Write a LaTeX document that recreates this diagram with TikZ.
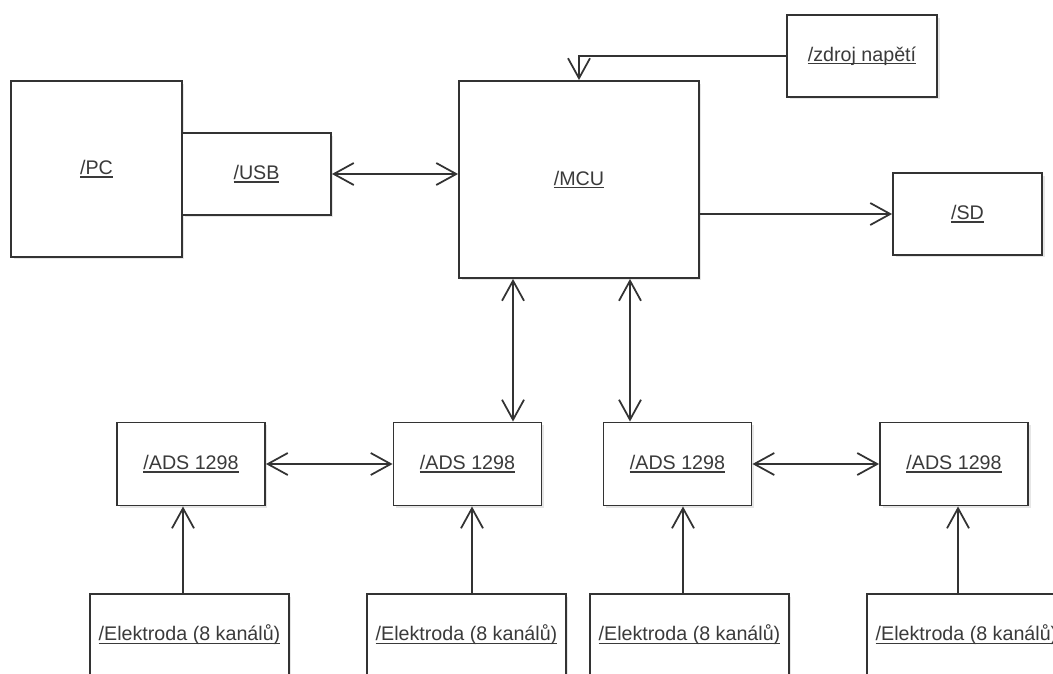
\documentclass[tikz,border=0pt]{standalone}
\usepackage{fontspec}
\setmainfont{Liberation Sans}
\usetikzlibrary{positioning,arrows.meta,shadows}

\definecolor{linegray}{HTML}{333333}
\definecolor{textgray}{HTML}{3A3A3A}

\newsavebox{\ulsave}
\newcommand{\ultext}[1]{\sbox{\ulsave}{#1}\rlap{\rule[-1.8pt]{\wd\ulsave}{0.8pt}}\usebox{\ulsave}}

\tikzset{blok/.style={draw=linegray,line width=1.1pt,fill=white,rectangle,inner sep=0pt,
text=textgray,font=\fontsize{11.2}{13}\selectfont,
drop shadow={shadow xshift=0.05cm,shadow yshift=-0.05cm,opacity=0.2}},
adsbox/.style={blok,minimum width=2.96cm,minimum height=1.66cm},
elbox/.style={blok,minimum width=3.98cm,minimum height=1.64cm}}
\tikzstyle{arrow} = [line width=1pt,draw=linegray,>={Straight Barb[length=0.4cm,width=0.44cm]}]

\begin{document}
\begin{tikzpicture}[x=0.02cm,y=-0.02cm]
		\clip (0,0) rectangle (1053,673);
		\begin{scope}[every node/.style={blok}]
			\node[minimum width=3.42cm,minimum height=3.52cm] (PC) at (96.5,169) {\ultext{/PC}};
			\node[minimum width=2.98cm,minimum height=1.64cm] (USB) at (256.5,174) {\ultext{/USB}};
			\node[minimum width=4.8cm,minimum height=3.94cm] (MCU) at (579,179.5) {\ultext{/MCU}};
			\node[minimum width=3.0cm,minimum height=1.64cm] (zdroj) at (862,56) {\ultext{/zdroj napětí}};
			\node[minimum width=2.98cm,minimum height=1.64cm] (SD) at (967.5,214) {\ultext{/SD}};
		\end{scope}

		\begin{scope}[every node/.style={adsbox}]
			\node (ADS1) at (191,464) {\ultext{/ADS 1298}};
			\node (ADS2) at (467.5,464) {\ultext{/ADS 1298}};
			\node (ADS3) at (677.5,464) {\ultext{/ADS 1298}};
			\node (ADS4) at (954,464) {\ultext{/ADS 1298}};
		\end{scope}

		\begin{scope}[every node/.style={elbox}]
			\node (E1) at (189.5,635) {\ultext{/Elektroda (8 kanálů)}};
			\node (E2) at (466.5,635) {\ultext{/Elektroda (8 kanálů)}};
			\node (E3) at (689.5,635) {\ultext{/Elektroda (8 kanálů)}};
			\node (E4) at (966.5,635) {\ultext{/Elektroda (8 kanálů)}};
		\end{scope}

		% spojeni
		\draw [arrow,<->] (USB.east) -- (USB.east -| MCU.west);
		\draw [arrow,->] (zdroj.west) -| (MCU.north);
		\draw [arrow,->] (MCU.east |- SD.west) -- (SD.west);
		\draw [arrow,<->] ([xshift=-1.32cm]MCU.south) -- ([xshift=-1.32cm]MCU.south |- ADS2.north);
		\draw [arrow,<->] ([xshift=1.02cm]MCU.south) -- ([xshift=1.02cm]MCU.south |- ADS3.north);
		\draw [arrow,<->] (ADS1.east) -- (ADS2.west);
		\draw [arrow,<->] (ADS3.east) -- (ADS4.west);
		\draw [arrow,->] ([xshift=-0.13cm]E1.north) -- ([xshift=-0.13cm]E1.north |- ADS1.south);
		\draw [arrow,->] ([xshift=0.11cm]E2.north) -- ([xshift=0.11cm]E2.north |- ADS2.south);
		\draw [arrow,->] ([xshift=-0.13cm]E3.north) -- ([xshift=-0.13cm]E3.north |- ADS3.south);
		\draw [arrow,->] ([xshift=-0.17cm]E4.north) -- ([xshift=-0.17cm]E4.north |- ADS4.south);
	\end{tikzpicture}
\end{document}
